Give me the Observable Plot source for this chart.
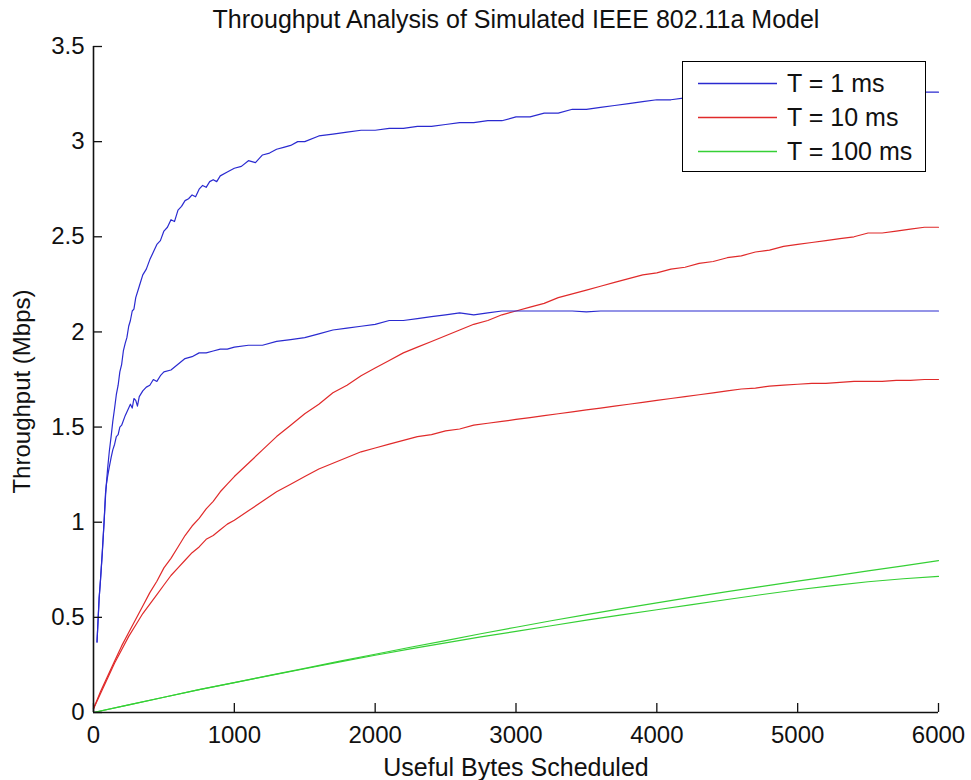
<!DOCTYPE html>
<html>
<head>
<meta charset="utf-8">
<script src="https://cdn.jsdelivr.net/npm/d3@7"></script>
<script src="https://cdn.jsdelivr.net/npm/@observablehq/plot@0.6"></script>
<style>
  body { margin: 0; background: #fff; font-family: "Liberation Sans", Arial, sans-serif; }
  #wrap { position: relative; width: 971px; height: 780px; overflow: hidden; }
  #legend { position: absolute; left: 682px; top: 61px; width: 242px; height: 109px;
            border: 1.5px solid #000; background: #fff; }
  .row { position: absolute; left: 0; height: 30px; width: 240px; }
  .row svg { position: absolute; left: 15px; top: 14px; }
  .row span { position: absolute; left: 104px; top: 0; font-size: 25px; line-height: 30px; color: #111; white-space: nowrap; }
</style>
</head>
<body>
<div id="wrap"><div id="chart"></div><div id="legend"></div></div>
<script>
// ---- text ----
const title = "Throughput Analysis of Simulated IEEE 802.11a Model";
const xLabel = "Useful Bytes Scheduled";
const yLabel = "Throughput (Mbps)";

// ---- ticks ----
const xTicks = [0, 1000, 2000, 3000, 4000, 5000, 6000];
const xTickLabels = ["0", "1000", "2000", "3000", "4000", "5000", "6000"];
const yTicks = [0, 0.5, 1, 1.5, 2, 2.5, 3, 3.5];
const yTickLabels = ["0", "0.5", "1", "1.5", "2", "2.5", "3", "3.5"];

// ---- legend ----
const seriesNames = ["T = 1 ms", "T = 10 ms", "T = 100 ms"];
const seriesColors = ["#2a2ad0", "#e02a2a", "#35d035"];

// ---- data: [bytes scheduled, throughput Mbps] ----
const t1RunA = [[25,0.37],[40,0.60],[50,0.70],[62,0.84],[75,1.00],[88,1.17],[100,1.28],[112,1.37],[125,1.45],[137,1.53],
  [150,1.60],[162,1.67],[175,1.72],[187,1.79],[200,1.83],[212,1.90],[225,1.94],[237,1.97],[250,2.03],[262,2.06],
  [275,2.11],[287,2.12],[300,2.18],[325,2.24],[350,2.30],[375,2.33],[400,2.38],[425,2.42],[450,2.46],[475,2.48],
  [500,2.53],[525,2.55],[550,2.59],[575,2.58],[600,2.64],[625,2.66],[650,2.69],[675,2.70],[700,2.72],[725,2.71],
  [750,2.75],[775,2.77],[800,2.76],[825,2.79],[850,2.80],[875,2.79],[900,2.82],[950,2.84],[1000,2.86],[1050,2.87],
  [1100,2.90],[1150,2.89],[1200,2.93],[1250,2.94],[1300,2.96],[1350,2.97],[1400,2.98],[1450,3.00],[1500,3.00],[1600,3.03],
  [1700,3.04],[1800,3.05],[1900,3.06],[2000,3.06],[2100,3.07],[2200,3.07],[2300,3.08],[2400,3.08],[2500,3.09],[2600,3.10],
  [2700,3.10],[2800,3.11],[2900,3.11],[3000,3.13],[3100,3.13],[3200,3.15],[3300,3.15],[3400,3.17],[3500,3.17],[3600,3.18],
  [3700,3.19],[3800,3.20],[3900,3.21],[4000,3.22],[4100,3.22],[4200,3.23],[4400,3.24],[4600,3.25],[4800,3.25],[5000,3.26],
  [5500,3.26],[6000,3.26]];

const t1RunB = [[25,0.37],[40,0.60],[50,0.70],[62,0.83],[75,1.00],[85,1.15],[92,1.20],[100,1.24],[112,1.29],[125,1.34],
  [137,1.38],[150,1.41],[162,1.45],[175,1.46],[187,1.50],[200,1.51],[225,1.56],[250,1.60],[262,1.62],[275,1.60],
  [287,1.65],[300,1.64],[312,1.61],[325,1.66],[350,1.69],[375,1.71],[400,1.72],[425,1.75],[450,1.74],[475,1.77],
  [500,1.79],[550,1.80],[600,1.83],[650,1.86],[700,1.87],[750,1.89],[800,1.89],[850,1.90],[900,1.91],[950,1.91],
  [1000,1.92],[1100,1.93],[1200,1.93],[1300,1.95],[1400,1.96],[1500,1.97],[1600,1.99],[1700,2.01],[1800,2.02],[1900,2.03],
  [2000,2.04],[2100,2.06],[2200,2.06],[2300,2.07],[2400,2.08],[2500,2.09],[2600,2.10],[2700,2.09],[2800,2.10],[2900,2.11],
  [3000,2.11],[3200,2.11],[3400,2.11],[3500,2.105],[3600,2.11],[4000,2.11],[6000,2.11]];

const t10RunA = [[0,0.02],[50,0.11],[100,0.19],[150,0.27],[200,0.35],[250,0.42],[300,0.49],[350,0.56],[400,0.63],[450,0.69],
  [500,0.76],[550,0.81],[600,0.87],[650,0.93],[700,0.98],[750,1.02],[800,1.07],[850,1.11],[900,1.16],[950,1.20],
  [1000,1.24],[1100,1.31],[1200,1.38],[1300,1.45],[1400,1.51],[1500,1.57],[1600,1.62],[1700,1.68],[1800,1.72],[1900,1.77],
  [2000,1.81],[2100,1.85],[2200,1.89],[2300,1.92],[2400,1.95],[2500,1.98],[2600,2.01],[2700,2.04],[2800,2.06],[2900,2.09],
  [3000,2.11],[3100,2.13],[3200,2.15],[3300,2.18],[3400,2.20],[3500,2.22],[3600,2.24],[3700,2.26],[3800,2.28],[3900,2.30],
  [4000,2.31],[4100,2.33],[4200,2.34],[4300,2.36],[4400,2.37],[4500,2.39],[4600,2.40],[4700,2.42],[4800,2.43],[4900,2.45],
  [5000,2.46],[5100,2.47],[5200,2.48],[5300,2.49],[5400,2.50],[5500,2.52],[5600,2.52],[5700,2.53],[5800,2.54],[5900,2.55],
  [6000,2.55]];

const t10RunB = [[0,0.02],[50,0.10],[100,0.18],[150,0.26],[200,0.33],[250,0.40],[300,0.46],[350,0.52],[400,0.57],[450,0.62],
  [500,0.67],[550,0.72],[600,0.76],[650,0.80],[700,0.84],[750,0.87],[800,0.91],[850,0.93],[900,0.96],[950,0.99],
  [1000,1.01],[1100,1.06],[1200,1.11],[1300,1.16],[1400,1.20],[1500,1.24],[1600,1.28],[1700,1.31],[1800,1.34],[1900,1.37],
  [2000,1.39],[2100,1.41],[2200,1.43],[2300,1.45],[2400,1.46],[2500,1.48],[2600,1.49],[2700,1.51],[2800,1.52],[2900,1.53],
  [3000,1.54],[3100,1.55],[3200,1.56],[3300,1.57],[3400,1.58],[3500,1.59],[3600,1.60],[3700,1.61],[3800,1.62],[3900,1.63],
  [4000,1.64],[4100,1.65],[4200,1.66],[4300,1.67],[4400,1.68],[4500,1.69],[4600,1.70],[4700,1.705],[4800,1.715],[4900,1.72],
  [5000,1.725],[5100,1.73],[5200,1.73],[5300,1.735],[5400,1.74],[5500,1.74],[5600,1.74],[5700,1.745],[5800,1.745],[5900,1.75],
  [6000,1.75]];

const t100RunA = [[0,0.00],[250,0.04],[500,0.08],[750,0.12],[1000,0.157],[1250,0.195],[1500,0.232],[1750,0.27],[2000,0.306],
  [2250,0.343],[2500,0.378],[2750,0.414],[3000,0.448],[3250,0.482],[3500,0.514],[3750,0.546],[4000,0.576],[4250,0.606],
  [4500,0.635],[4750,0.663],[5000,0.69],[5250,0.717],[5500,0.744],[5750,0.771],[6000,0.798]];

const t100RunB = [[0,0.00],[250,0.04],[500,0.08],[750,0.12],[1000,0.157],[1250,0.194],[1500,0.23],[1750,0.266],[2000,0.301],
  [2250,0.334],[2500,0.366],[2750,0.397],[3000,0.426],[3250,0.456],[3500,0.485],[3750,0.513],[4000,0.54],[4250,0.567],
  [4500,0.594],[4750,0.62],[5000,0.645],[5250,0.667],[5500,0.687],[5750,0.703],[6000,0.715]];

const runs = [
  {data: t100RunA, s: 2}, {data: t100RunB, s: 2},
  {data: t10RunA, s: 1}, {data: t10RunB, s: 1},
  {data: t1RunA, s: 0}, {data: t1RunB, s: 0}
];

const font = "'Liberation Sans', Arial, Helvetica, sans-serif";
const fmtY = d => yTickLabels[yTicks.indexOf(d)];
const fmtX = d => xTickLabels[xTicks.indexOf(d)];

const chart = Plot.plot({
  width: 971,
  height: 780,
  marginLeft: 93,
  marginRight: 33,
  marginTop: 46,
  marginBottom: 68,
  style: {fontFamily: font, fontSize: "24px", color: "#111", background: "#fff", overflow: "visible"},
  x: {domain: [0, 6000], ticks: xTicks, tickSize: 0, tickPadding: 13, tickFormat: fmtX, label: null},
  y: {domain: [0, 3.5], ticks: yTicks, tickSize: 0, tickPadding: 9, tickFormat: fmtY, label: null},
  marks: [
    ...runs.map(r => Plot.line(r.data, {x: d => d[0], y: d => d[1], stroke: seriesColors[r.s], strokeWidth: 1.2})),
    Plot.tickX(xTicks, {x: d => d, insetTop: 657, stroke: "#111", strokeWidth: 1.3}),
    Plot.tickY(yTicks, {y: d => d, insetRight: 836, stroke: "#111", strokeWidth: 1.3}),
    Plot.ruleX([0], {stroke: "#111", strokeWidth: 1.6}),
    Plot.ruleY([0], {stroke: "#111", strokeWidth: 1.6}),
    Plot.text([title], {text: d => d, frameAnchor: "top", lineAnchor: "middle", textAnchor: "middle", dy: -27, fontSize: 25, fill: "#111"}),
    Plot.text([xLabel], {text: d => d, frameAnchor: "bottom", lineAnchor: "middle", textAnchor: "middle", dy: 55, fontSize: 25, fill: "#111"}),
    Plot.text([yLabel], {text: d => d, frameAnchor: "left", lineAnchor: "middle", textAnchor: "middle", dx: -71, dy: 12, rotate: -90, fontSize: 24, fill: "#111"})
  ]
});
document.getElementById("chart").appendChild(chart);

// legend
const leg = document.getElementById("legend");
const rowTops = [6, 40, 74];
seriesNames.forEach((name, i) => {
  const row = document.createElement("div");
  row.className = "row";
  row.style.top = rowTops[i] + "px";
  row.innerHTML = `<svg width="80" height="3"><line x1="0" y1="1.5" x2="79" y2="1.5" stroke="${seriesColors[i]}" stroke-width="1.3"/></svg><span>${name}</span>`;
  leg.appendChild(row);
});
</script>
</body>
</html>
